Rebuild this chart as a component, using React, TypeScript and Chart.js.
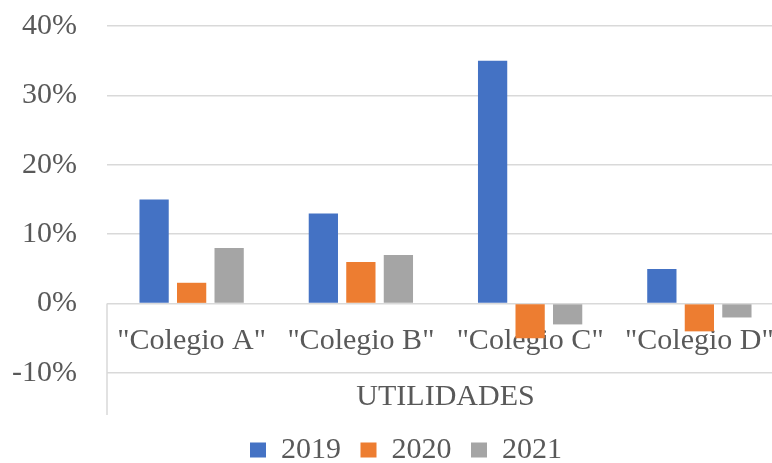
import React, { useEffect, useRef } from "react";
import { Chart, registerables } from "chart.js";

Chart.register(...registerables);

const categories = ['"Colegio A"', '"Colegio B"', '"Colegio C"', '"Colegio D"'];
const seriesNames = ["2019", "2020", "2021"];
const values2019 = [15, 13, 35, 5];
const values2020 = [3, 6, -5, -4];
const values2021 = [8, 7, -3, -2];
const seriesColors = ["#4472C4", "#ED7D31", "#A5A5A5"];
const yMin = -10;
const yMax = 40;
const yStep = 10;
const axisTitle = "UTILIDADES";

const FONT = "'Liberation Serif', 'Times New Roman', serif";
const TEXT = "#595959";
const GRID = "#D9D9D9";

const leftLinePlugin = {
  id: "leftLine",
  beforeDatasetsDraw(chart: any) {
    const { ctx, chartArea, scales } = chart;
    const y0 = scales.y.getPixelForValue(0);
    ctx.save();
    ctx.strokeStyle = GRID;
    ctx.lineWidth = 1.5;
    ctx.beginPath();
    ctx.moveTo(chartArea.left, y0);
    ctx.lineTo(chartArea.left, chartArea.bottom + 42);
    ctx.stroke();
    ctx.restore();
  },
};

export default function App() {
  const ref = useRef<HTMLCanvasElement | null>(null);

  useEffect(() => {
    if (!ref.current) return;
    const allValues = [values2019, values2020, values2021];
    const chart = new Chart(ref.current, {
      type: "bar",
      data: {
        labels: categories,
        datasets: seriesNames.map((name, i) => ({
          label: name,
          data: allValues[i],
          backgroundColor: seriesColors[i],
          borderWidth: 0,
          categoryPercentage: 0.665,
          barPercentage: 0.78,
        })),
      },
      options: {
        responsive: false,
        animation: false,
        devicePixelRatio: 1,
        layout: { padding: { top: 26, right: 2, bottom: 0, left: 0 } },
        scales: {
          x: {
            position: { y: 0 } as any,
            grid: { display: false, drawTicks: false },
            border: { display: false },
            ticks: {
              color: TEXT,
              font: { family: FONT, size: 30 },
              padding: 20,
              maxRotation: 0,
              autoSkip: false,
            },
          },
          y: {
            min: yMin,
            max: yMax,
            grid: {
              color: GRID,
              lineWidth: 1.5,
              drawTicks: true,
              tickLength: 27,
              tickColor: "rgba(0,0,0,0)",
            },
            border: { display: false },
            ticks: {
              stepSize: yStep,
              color: TEXT,
              font: { family: FONT, size: 30 },
              padding: 3,
              callback: (v: any) => `${v}%`,
            },
            afterFit: (scale: any) => {
              scale.width = 107;
            },
          },
          y2: {
            type: "linear",
            position: "right",
            display: true,
            grid: { display: false, drawTicks: false },
            border: { display: false },
            ticks: { display: false },
            afterFit: (scale: any) => {
              scale.width = 28;
            },
          },
        },
        plugins: {
          title: {
            display: true,
            text: axisTitle,
            position: "bottom",
            fullSize: false,
            weight: 500,
            color: TEXT,
            font: { family: FONT, size: 30, weight: "normal" },
            padding: { top: 6.5, bottom: 0 },
          } as any,
          legend: {
            position: "bottom",
            labels: {
              boxWidth: 16,
              boxHeight: 15,
              padding: 19.5,
              color: TEXT,
              font: { family: FONT, size: 30 },
            },
          },
          tooltip: { enabled: false },
        },
      },
      plugins: [leftLinePlugin],
    });
    return () => chart.destroy();
  }, []);

  return (
    <div
      style={{
        position: "fixed",
        left: 0,
        top: 0,
        width: 772,
        height: 463,
        overflow: "hidden",
        background: "#ffffff",
      }}
    >
      <canvas ref={ref} width={814} height={475} style={{ display: "block", width: 814, height: 475 }} />
    </div>
  );
}
